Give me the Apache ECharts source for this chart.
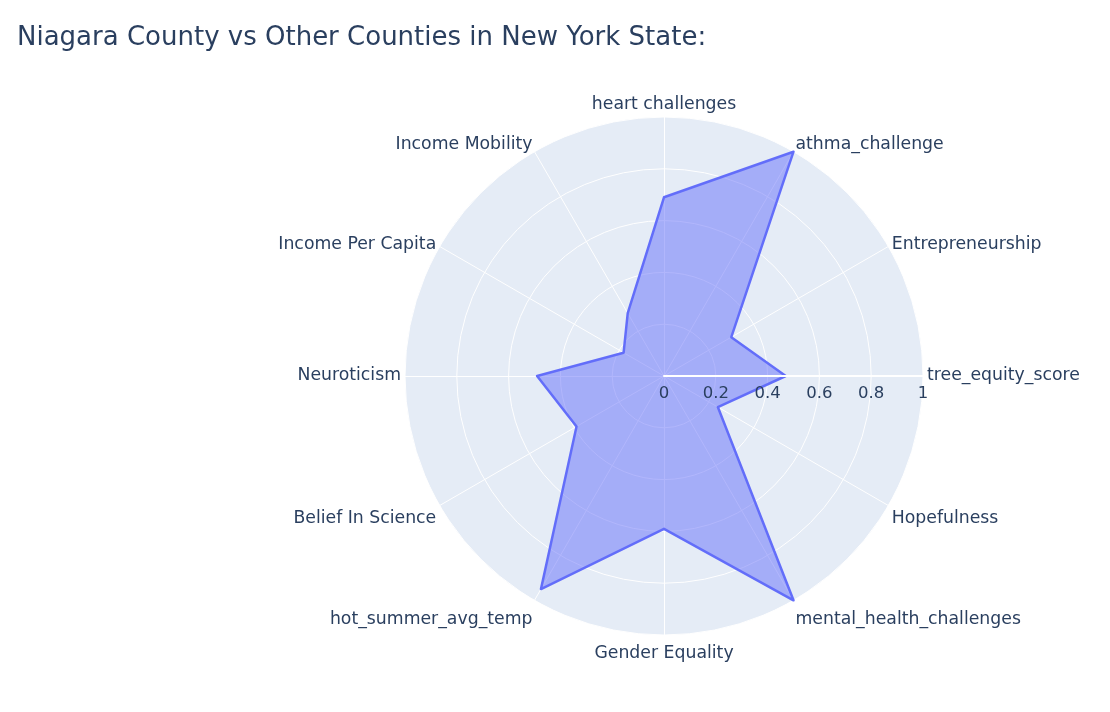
<!DOCTYPE html>
<html>
<head>
<meta charset="utf-8">
<script src="https://cdn.jsdelivr.net/npm/echarts@6/dist/echarts.min.js"></script>
<style>html,body{margin:0;padding:0;background:#fff}#c{width:1110px;height:712px}</style>
</head>
<body>
<div id="c"></div>
<script>
// Categories in plotting order (counter-clockwise starting at the right, as in the reference)
const categories = ["tree_equity_score", "Entrepreneurship", "athma_challenge", "heart challenges",
  "Income Mobility", "Income Per Capita", "Neuroticism", "Belief In Science",
  "hot_summer_avg_temp", "Gender Equality", "mental_health_challenges", "Hopefulness"];
const values = [0.47, 0.30, 1.0, 0.69, 0.28, 0.18, 0.49, 0.39, 0.95, 0.59, 1.0, 0.24];
const radialTicks = [0, 0.2, 0.4, 0.6, 0.8, 1];
const titleText = "Niagara County vs Other Counties in New York State:";

const FONT = "'DejaVu Sans', Verdana, sans-serif";
const TXT = '#2a3f5f';
const center = [664, 376];
const R = 259;

const base = {fontFamily: FONT, fontSize: 17.3, color: TXT};
// label styles emulating Plotly's anchor placement at different angles
const rich = {
  n: Object.assign({}, base),
  u: Object.assign({padding: [0, 0, 8, 0]}, base),
  d1: Object.assign({padding: [22, 0, 0, 0]}, base),
  d2: Object.assign({padding: [32, 0, 0, 0]}, base),
  d3: Object.assign({padding: [6, 0, 0, 0]}, base)
};
function styleFor(name) {
  const deg = (categories.indexOf(name) * 360 / categories.length) % 360;
  if (deg === 60 || deg === 120) return 'u';
  if (deg === 330 || deg === 210) return 'd1';
  if (deg === 300 || deg === 240) return 'd2';
  if (deg === 270) return 'd3';
  return 'n';
}

const chart = echarts.init(document.getElementById('c'), null, {renderer: 'canvas'});
chart.setOption({
  backgroundColor: '#fff',
  animation: false,
  title: {
    text: titleText, left: 12, top: 20,
    textStyle: {fontFamily: FONT, fontSize: 26, fontWeight: 'normal', color: TXT}
  },
  radar: {
    center: center, radius: R, startAngle: 0, shape: 'circle', splitNumber: 5,
    indicator: categories.map(n => ({name: n, min: 0, max: 1})),
    axisName: {color: TXT, fontFamily: FONT, fontSize: 17.3, rich: rich,
      formatter: (name) => '{' + styleFor(name) + '|' + name + '}'},
    nameGap: 4,
    splitArea: {show: true, areaStyle: {color: ['#E5ECF6']}},
    splitLine: {show: true, lineStyle: {color: '#fff', width: 1}},
    axisLine: {show: true, lineStyle: {color: '#fff', width: 1}},
    axisTick: {show: false}, axisLabel: {show: false}
  },
  polar: {center: center, radius: R},
  angleAxis: {type: 'value', min: 0, max: 360, startAngle: 0, show: false},
  radiusAxis: {
    type: 'value', min: radialTicks[0], max: radialTicks[radialTicks.length - 1], interval: 0.2,
    z: 10,
    axisLine: {show: true, lineStyle: {color: '#fff', width: 2}},
    axisTick: {show: false}, splitLine: {show: false},
    axisLabel: {color: TXT, fontFamily: FONT, fontSize: 16.5, margin: -9, verticalAlign: 'top',
      formatter: v => String(+v.toFixed(1))}
  },
  series: [{
    type: 'radar', symbol: 'none',
    lineStyle: {color: '#636efa', width: 2.5},
    areaStyle: {color: '#636efa', opacity: 0.5},
    data: [{value: values}]
  }]
});
</script>
</body>
</html>
